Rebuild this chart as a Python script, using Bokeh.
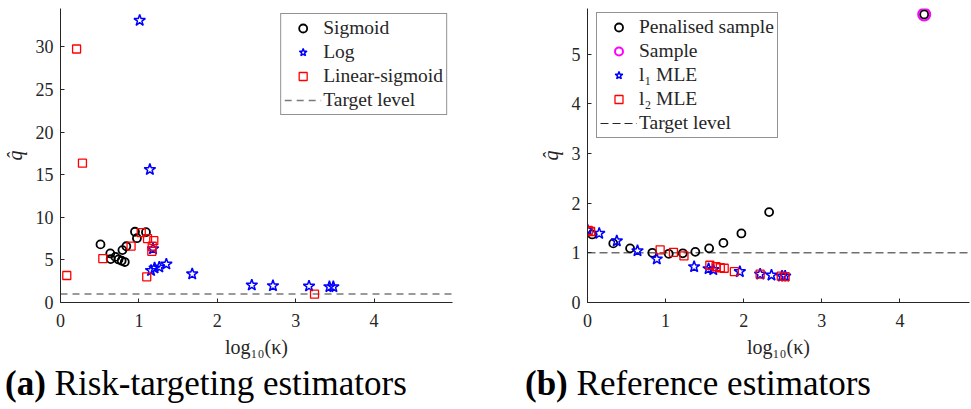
from bokeh.plotting import figure
from bokeh.models import Range1d, FixedTicker, Legend, LegendItem, Div
from bokeh.layouts import row, column
from bokeh.embed import file_html
from bokeh.resources import INLINE

# ---------------- data: (a) risk-targeting estimators ----------------
sigmoid_x = [0.51, 0.635, 0.64, 0.70, 0.74, 0.78, 0.82, 0.79, 0.84, 0.95, 0.975, 1.09]
sigmoid_y = [6.82, 5.76, 5.10, 5.35, 5.05, 4.90, 4.75, 6.15, 6.60, 8.30, 7.55, 8.25]

log_x = [1.01, 1.14, 1.18, 1.155, 1.20, 1.26, 1.35, 1.68, 2.44, 2.71, 3.17, 3.43, 3.48]
log_y = [33.1, 15.6, 6.30, 3.75, 4.05, 4.15, 4.50, 3.35, 2.04, 1.96, 1.92, 1.85, 1.85]

linsig_x = [0.08, 0.205, 0.28, 0.54, 0.90, 1.03, 1.11, 1.19, 1.17, 1.165, 1.10, 3.24]
linsig_y = [3.17, 29.75, 16.35, 5.15, 6.62, 8.19, 7.50, 7.25, 6.60, 6.00, 3.01, 0.98]

# ---------------- data: (b) reference estimators ----------------
pen_x = [0.06, 0.33, 0.545, 0.83, 1.04, 1.22, 1.38, 1.557, 1.74, 1.97, 2.325, 4.31]
pen_y = [1.37, 1.19, 1.09, 1.00, 0.98, 0.99, 1.02, 1.09, 1.20, 1.39, 1.82, 5.80]

sample_x = [4.31]
sample_y = [5.80]

l1_x = [0.0, 0.15, 0.375, 0.64, 0.887, 1.365, 1.55, 1.61, 1.95, 2.21, 2.355, 2.49, 2.53]
l1_y = [1.46, 1.39, 1.24, 1.04, 0.875, 0.72, 0.68, 0.66, 0.62, 0.57, 0.55, 0.53, 0.53]

l2_x = [0.01, 0.04, 0.93, 1.10, 1.235, 1.566, 1.645, 1.70, 1.75, 1.88, 2.21, 2.48, 2.53]
l2_y = [1.45, 1.43, 1.06, 1.01, 0.94, 0.75, 0.72, 0.70, 0.69, 0.62, 0.57, 0.53, 0.52]

target_level = 1.0

xlim_a = (0, 5.0)
ylim_a = (0, 34.5)
xlim_b = (0, 4.89)
ylim_b = (0, 5.92)

x_ticks = [0, 1, 2, 3, 4]
y_ticks_a = [0, 5, 10, 15, 20, 25, 30]
y_ticks_b = [0, 1, 2, 3, 4, 5]

FONT = "Liberation Serif"
AX = "#262626"


def style(p, yticks, ylabel_standoff):
    p.xaxis.ticker = FixedTicker(ticks=x_ticks)
    p.yaxis.ticker = FixedTicker(ticks=yticks)
    for ax in (p.xaxis[0], p.yaxis[0]):
        ax.major_tick_in = 4
        ax.major_tick_out = 0
        ax.minor_tick_in = 0
        ax.minor_tick_out = 0
        ax.axis_line_color = AX
        ax.major_tick_line_color = AX
        ax.major_label_text_font = FONT
        ax.major_label_text_font_size = "18px"
        ax.major_label_text_color = AX
        ax.axis_label_text_font = FONT
        ax.axis_label_text_color = AX
        ax.axis_label_text_font_style = "normal"
    p.yaxis.major_label_standoff = 7
    p.xaxis.major_label_standoff = 11
    p.xaxis.axis_label = "log\u2081\u2080(\u03ba)"
    p.xaxis.axis_label_text_font_size = "20px"
    p.xaxis.axis_label_standoff = 6
    p.yaxis.axis_label = "q\u0302"
    p.yaxis.axis_label_text_font_size = "20px"
    p.yaxis.axis_label_text_font_style = "italic"
    p.yaxis.axis_label_standoff = ylabel_standoff
    p.xgrid.visible = False
    p.ygrid.visible = False
    p.outline_line_color = None
    p.background_fill_color = "white"
    p.border_fill_color = "white"


def style_legend(leg):
    leg.label_text_font = FONT
    leg.label_text_font_size = "19.5px"
    leg.label_text_color = AX
    leg.glyph_width = 37
    leg.glyph_height = 20
    leg.label_height = 20
    leg.label_standoff = 2
    leg.spacing = 2
    leg.padding = 3
    leg.border_line_color = AX
    leg.border_line_width = 1
    leg.background_fill_alpha = 1.0


# ---------------- figure (a) ----------------
pa = figure(frame_width=392, frame_height=294, output_backend="svg", toolbar_location=None,
            x_range=Range1d(*xlim_a), y_range=Range1d(*ylim_a),
            min_border_left=60, min_border_right=56, min_border_top=8, min_border_bottom=64)
style(pa, y_ticks_a, 7)

ra4 = pa.line(list(xlim_a), [target_level, target_level], line_color="#7a7a7a",
              line_width=1.5, line_dash="7 5")
ra1 = pa.scatter(sigmoid_x, sigmoid_y, marker="circle", size=8, fill_color=None,
                 line_color="black", line_width=1.8)
ra2 = pa.scatter(log_x, log_y, marker="star", size=12, fill_color=None,
                 line_color="#0000ff", line_width=1.5)
ra3 = pa.scatter(linsig_x, linsig_y, marker="square", size=8, fill_color=None,
                 line_color="#ff0000", line_width=1.3)

leg_a = Legend(items=[LegendItem(label="Sigmoid", renderers=[ra1]),
                      LegendItem(label="Log", renderers=[ra2]),
                      LegendItem(label="Linear-sigmoid", renderers=[ra3]),
                      LegendItem(label="Target level", renderers=[ra4])],
               location="top_right", margin=5)
style_legend(leg_a)
pa.add_layout(leg_a)

# ---------------- figure (b) ----------------
pb = figure(frame_width=382, frame_height=294, output_backend="svg", toolbar_location=None,
            x_range=Range1d(*xlim_b), y_range=Range1d(*ylim_b),
            min_border_left=79, min_border_right=1, min_border_top=8, min_border_bottom=64)
style(pb, y_ticks_b, 7)

rb5 = pb.line(list(xlim_b), [target_level, target_level], line_color="#262626",
              line_width=1, line_dash="8 4")
rb2 = pb.scatter(sample_x, sample_y, marker="circle", size=12, fill_color=None,
                 line_color="#ff00ff", line_width=2)
rb1 = pb.scatter(pen_x, pen_y, marker="circle", size=8, fill_color=None,
                 line_color="black", line_width=1.8)
rb3 = pb.scatter(l1_x, l1_y, marker="star", size=12, fill_color=None,
                 line_color="#0000ff", line_width=1.5)
rb4 = pb.scatter(l2_x, l2_y, marker="square", size=8, fill_color=None,
                 line_color="#ff0000", line_width=1.3)

leg_b = Legend(items=[LegendItem(label="Penalised sample", renderers=[rb1]),
                      LegendItem(label="Sample", renderers=[rb2]),
                      LegendItem(label="l\u2081 MLE", renderers=[rb3]),
                      LegendItem(label="l\u2082 MLE", renderers=[rb4]),
                      LegendItem(label="Target level", renderers=[rb5])],
               location=(9, 164), margin=0)
style_legend(leg_b)
pb.add_layout(leg_b)

# ---------------- captions ----------------
cap_style = {"font-family": FONT, "font-size": "35px", "line-height": "1",
             "color": "black", "white-space": "nowrap"}
cap_a = Div(text="<b>(a)</b>&nbsp;Risk-targeting estimators", width=470, height=36,
            styles=cap_style, margin=(0, 0, 0, 5))
cap_b = Div(text="<b>(b)</b>&nbsp;Reference estimators", width=420, height=36,
            styles=cap_style, margin=(0, 0, 0, 50))

layout = column(row(pa, pb, spacing=0), row(cap_a, cap_b, spacing=0), spacing=0)
open("out.html", "w").write(file_html(layout, INLINE))
